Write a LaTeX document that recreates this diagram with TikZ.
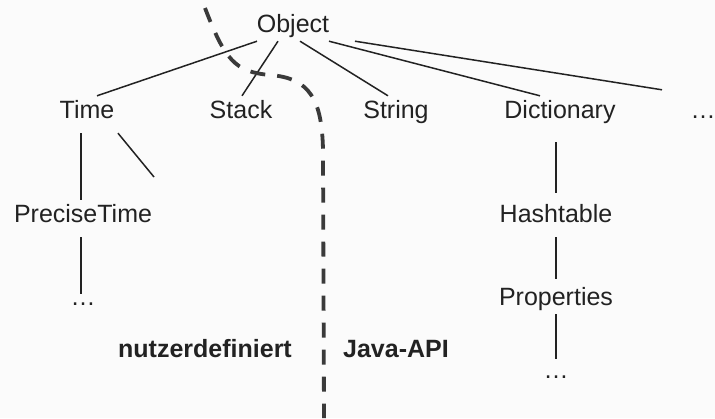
\documentclass[tikz,border=0pt]{standalone}
\usepackage{fontspec}
\setmainfont{Liberation Sans}

\definecolor{ink}{HTML}{222222}
\definecolor{paper}{HTML}{FBFBFB}
\definecolor{split}{HTML}{3A3A3A}

\begin{document}
\begin{tikzpicture}[x=1pt,y=-1pt,
    cls/.style={anchor=base,inner xsep=0pt,inner ysep=4pt,text height=18pt,text depth=5pt,
        text=ink,font=\fontsize{25}{30}\selectfont},
    side/.style={anchor=base,text=ink,font=\fontsize{25}{30}\selectfont\bfseries},
    link/.style={draw=ink,line width=1.5pt}]
    \fill[paper] (0,0) rectangle (715,418);
    \useasboundingbox (0,0) rectangle (715,418);

    % class tree
    \node[cls] (object) at (293,32) {Object};
    \node[cls] (time) at (87,118) {Time};
    \node[cls] (stack) at (241,118) {Stack};
    \node[cls] (string) at (396,118) {String};
    \node[cls] (dictionary) at (560,118) {Dictionary};
    \node[cls] (more) at (703,118) {…};
    \node[cls] (precisetime) at (83,222) {PreciseTime};
    \node[cls] (timemore) at (83,305) {…};
    \node[cls] (hashtable) at (556,222) {Hashtable};
    \node[cls] (properties) at (556,305) {Properties};
    \node[cls] (propmore) at (556,378) {…};
    \coordinate (timesub) at (154,177);

    \foreach \child/\from/\to in {time/-36/10,stack/-15/1,string/7/-8,dictionary/36/-20} {
        \draw[link] ([xshift=\from pt]object.south) -- ([xshift=\to pt]\child.north);
    }
    \draw[link] ([xshift=62pt]object.south) -- ([xshift=-41pt,yshift=6pt]more.north);

    \draw[link] ([xshift=-6pt,yshift=-6pt]time.south) -- ([xshift=-2pt]precisetime.north);
    \draw[link] ([xshift=31pt,yshift=-6pt]time.south) -- (timesub);
    \draw[link] ([xshift=-2pt,yshift=-6pt]precisetime.south) -- ([xshift=-2pt,yshift=-11pt]timemore.north);
    \draw[link] ([xshift=-4pt,yshift=-15pt]dictionary.south) -- ([yshift=7pt]hashtable.north);
    \draw[link] ([yshift=-6pt]hashtable.south) -- ([yshift=4pt]properties.north);
    \draw[link] (properties.south) -- ([yshift=-3pt]propmore.north);

    % border between own classes and the library
    \draw[split,line width=3.8pt,dash pattern=on 15pt off 12pt]
        (205,8) .. controls (225,60) and (235,72) .. (270,75)
        .. controls (310,78) and (322,100) .. (323,150) -- (324,418);
    \node[side] (own) at (205,357) {nutzerdefiniert};
    \node[side] (api) at (396,357) {Java-API};
\end{tikzpicture}
\end{document}
